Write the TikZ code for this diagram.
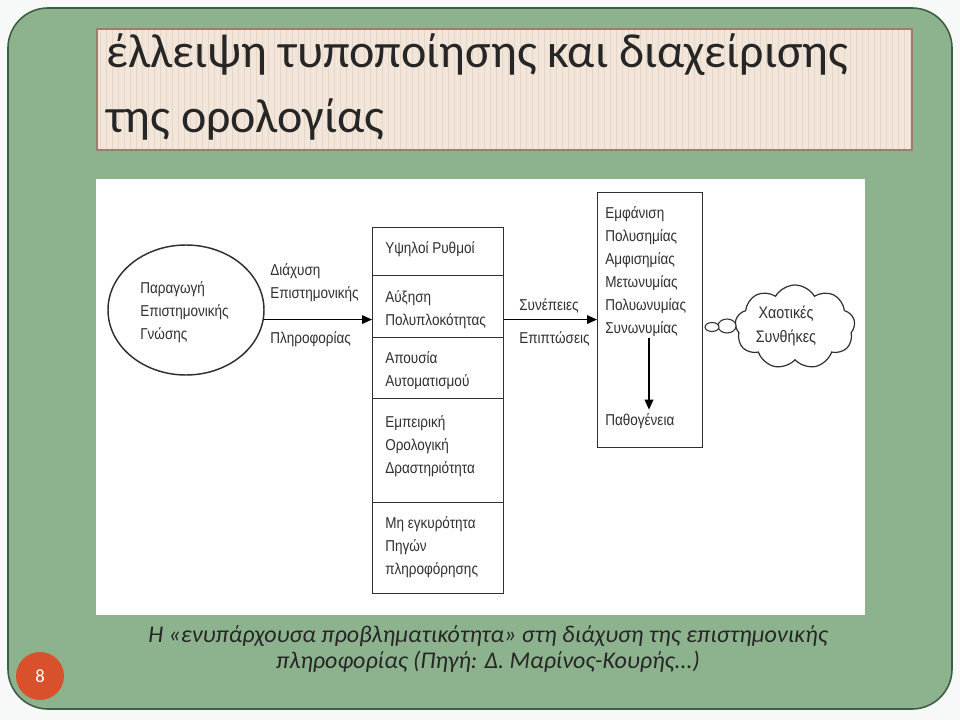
\documentclass[tikz,border=0pt]{standalone}
\usepackage{fontspec}
\setmainfont{Carlito}
\newfontfamily\diag[FakeStretch=0.86]{Liberation Sans}
\usetikzlibrary{shapes.geometric,shapes.symbols,arrows.meta}
\definecolor{pagebg}{HTML}{F6F9F7}
\definecolor{slide}{HTML}{8DB38E}
\definecolor{slideedge}{HTML}{3E5E44}
\definecolor{titlefill}{HTML}{F2E5D9}
\definecolor{titlestripe}{HTML}{E6D6C6}
\definecolor{titleedge}{HTML}{9C7F6A}
\definecolor{numfill}{HTML}{D9512C}
\definecolor{ink}{HTML}{303030}
\begin{document}
\begin{tikzpicture}[x=0.75pt,y=-0.75pt,
  dtext/.style={font=\diag\fontsize{11.8pt}{17.25pt}\selectfont, align=left, anchor=north west, inner sep=0pt, text=ink},
  cell/.style={draw=ink, line width=1.1pt, rectangle, anchor=north west, minimum width=98.25pt, inner sep=0pt},
  conn/.style={draw=black, line width=1pt, -{Triangle[length=7.5pt,width=6.5pt]}},
  bubble/.style={ellipse, draw=ink, line width=0.8pt, fill=white, inner sep=0pt},
  titletext/.style={anchor=base west, inner sep=0pt, font=\fontsize{36pt}{48pt}\selectfont, text=black!85},
]
\useasboundingbox (0,0) rectangle (960,720);
\fill[pagebg] (0,0) rectangle (960,720);
\draw[slideedge, line width=1.2pt, fill=slide, rounded corners=30pt] (8,8) rectangle (952,709);
% title box
\begin{scope}
\clip (97,29) rectangle (912,150);
\fill[titlefill] (97,29) rectangle (912,150);
\foreach \i in {0,...,135} \draw[titlestripe, line width=0.6pt] (100+6*\i,29) -- (100+6*\i,150);
\end{scope}
\draw[titleedge, line width=0.8pt] (97,29) rectangle (912,150);
\node[titletext] (title1) at (106,68) {έλλειψη τυποποίησης και διαχείρισης};
\node[titletext] (title2) at (106,133) {της ορολογίας};
% panel
\fill[white] (96,179) rectangle (865,615);
% ellipse
\node[ellipse, draw=ink, line width=1.1pt, minimum width=117pt, minimum height=97.5pt, inner sep=0pt] (gen) at (186,310) {};
\node[dtext] (gentxt) at (140,281) {Παραγωγή\\Επιστημονικής\\Γνώσης};
\node[dtext] (lab1) at (270,263) {Διάχυση\\Επιστημονικής};
\node[dtext] (lab2) at (270,331) {Πληροφορίας};
% middle cells
\node[cell, minimum height=36pt] (c1) at (372,227) {};
\node[cell, minimum height=46.5pt] (c2) at (372,275) {};
\node[cell, minimum height=45.75pt] (c3) at (372,337) {};
\node[cell, minimum height=78pt] (c4) at (372,398) {};
\node[cell, minimum height=68.25pt] (c5) at (372,502) {};
\node[dtext] (t1) at (385,241) {Υψηλοί Ρυθμοί};
\node[dtext] (t2) at (385,290) {Αύξηση\\Πολυπλοκότητας};
\node[dtext] (t3) at (385,351) {Απουσία\\Αυτοματισμού};
\node[dtext] (t4) at (385,415) {Εμπειρική\\Ορολογική\\Δραστηριότητα};
\node[dtext] (t5) at (385,516) {Μη εγκυρότητα\\Πηγών\\πληροφόρησης};
% right box
\node[cell, minimum width=78.75pt, minimum height=191.25pt] (res) at (597,192) {};
\node[dtext] (rt) at (605,206) {Εμφάνιση\\Πολυσημίας\\Αμφισημίας\\Μετωνυμίας\\Πολυωνυμίας\\Συνωνυμίας};
\node[dtext] (pat) at (605,413) {Παθογένεια};
\node[dtext] (lab3) at (519,298) {Συνέπειες};
\node[dtext] (lab4) at (519,331) {Επιπτώσεις};
% arrows
\draw[conn] (gen.-7) -- (gen.-7 -| c2.west);
\draw[conn] (c2.east |- gen.-7) -- (gen.-7 -| res.west);
\coordinate (vtop) at (649,338);
\draw[conn] (vtop) -- ([yshift=2.5pt]vtop |- pat.north);
% cloud
\node[cloud, draw=ink, line width=0.9pt, cloud puffs=9, cloud puff arc=120, aspect=1.45, minimum width=90pt, minimum height=63pt, inner sep=0pt] (cl) at (795,327) {};
\node[dtext, align=center, anchor=center, font=\diag\fontsize{12.5pt}{18pt}\selectfont] (cltxt) at (786,326) {Χαοτικές\\Συνθήκες};
\node[bubble, minimum width=13.5pt, minimum height=10.5pt] (b2) at (727,326) {};
\node[bubble, minimum width=10.5pt, minimum height=6.75pt] (b1) at (712,327) {};
% caption
\node[font=\itshape\fontsize{18pt}{19.5pt}\selectfont, align=center, text=black!85, inner sep=0pt] (cap) at (488,649) {Η «ενυπάρχουσα προβληματικότητα» στη διάχυση της επιστημονικής\\πληροφορίας (Πηγή: Δ. Μαρίνος-Κουρής...)};
% page number
\node[circle, fill=numfill, minimum size=36pt, inner sep=0pt, text=white, font=\fontsize{14pt}{14pt}\selectfont] (num) at (40,676) {8};
\end{tikzpicture}
\end{document}
